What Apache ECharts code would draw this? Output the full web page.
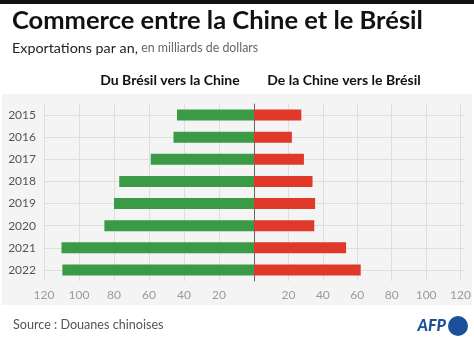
<!DOCTYPE html>
<html><head><meta charset="utf-8">
<script src="https://cdn.jsdelivr.net/npm/echarts@6/dist/echarts.min.js"></script>
<style>html,body{margin:0;padding:0;background:#fff}#c{width:474px;height:338px}</style>
</head><body><div id="c"></div>
<script>
const years = ['2015','2016','2017','2018','2019','2020','2021','2022'];
const bresilVersChine = [44, 46, 59, 77, 80, 85.5, 110, 109.5];
const chineVersBresil = [27.5, 22, 29, 34, 35.5, 35, 53.5, 62];
const xTicks = [0, 20, 40, 60, 80, 100, 120];

const FONT = 'Lato';
const chart = echarts.init(document.getElementById('c'), null, {renderer: 'canvas'});

function xAxisCfg(grid, inverse) {
  return {
    type: 'value', gridIndex: grid, min: xTicks[0], max: xTicks[xTicks.length - 1], interval: 20, inverse: inverse,
    axisLine: {show: false}, axisTick: {show: false},
    splitLine: {show: true, lineStyle: {color: '#dedede', width: 1}},
    axisLabel: {color: '#9a9a9a', fontSize: 12, fontFamily: FONT, margin: 8,
      formatter: v => v === 0 ? '' : String(v), showMinLabel: true, showMaxLabel: true}
  };
}
function yAxisCfg(grid, showLabels, showLine) {
  return {
    type: 'category', gridIndex: grid, data: years, inverse: true,
    axisTick: {show: false},
    axisLine: {show: showLine, lineStyle: {color: '#666', width: 1}},
    axisLabel: {show: showLabels, color: '#555', fontSize: 12, fontFamily: FONT, margin: 8},
    splitLine: {show: false}
  };
}

chart.setOption({
  animation: false,
  backgroundColor: '#ffffff',
  graphic: [
    {type: 'rect', shape: {x: 0, y: 0, width: 474, height: 4}, style: {fill: '#111'}, z: -10},
    {type: 'rect', shape: {x: 2, y: 94, width: 470, height: 211}, style: {fill: '#f4f4f4'}, z: -10},
    {type: 'text', left: 12, top: 8, style: {text: 'Commerce entre la Chine et le Brésil', font: 'bold 25.5px ' + FONT, fill: '#111'}},
    {type: 'text', left: 12, top: 41, style: {
      text: '{a|Exportations par an,} {b|en milliards de dollars}',
      rich: {
        a: {fontFamily: FONT, fontSize: 14.3, fill: '#222', color: '#222'},
        b: {fontFamily: FONT, fontSize: 12.4, fill: '#666', color: '#666'}
      }}},
    {type: 'text', x: 170, y: 80, style: {text: 'Du Brésil vers la Chine', font: 'bold 14px ' + FONT, fill: '#111', textAlign: 'center', textVerticalAlign: 'middle'}},
    {type: 'text', x: 344, y: 80, style: {text: 'De la Chine vers le Brésil', font: 'bold 14px ' + FONT, fill: '#111', textAlign: 'center', textVerticalAlign: 'middle'}},
    {type: 'text', left: 13, top: 318, style: {text: 'Source : Douanes chinoises', font: '12.6px ' + FONT, fill: '#555'}},
    {type: 'text', x: 446, y: 326, style: {text: 'AFP', font: 'italic 900 16px ' + FONT, fill: '#1c4f9c', textAlign: 'right', textVerticalAlign: 'middle'}},
    {type: 'circle', shape: {cx: 458, cy: 326, r: 10}, style: {fill: '#1c4f9c'}}
  ],
  grid: [
    {left: 44, width: 210, top: 104, bottom: 57},
    {left: 254, width: 210, top: 104, bottom: 57},
    {left: 44, width: 420, top: 115, bottom: 68}
  ],
  xAxis: [xAxisCfg(0, true), xAxisCfg(1, false),
    {type: 'value', gridIndex: 2, min: 0, max: 1, show: false}],
  yAxis: [yAxisCfg(0, true, false), yAxisCfg(1, false, true),
    {type: 'category', gridIndex: 2, data: years, inverse: true, boundaryGap: false,
      axisLine: {show: false}, axisTick: {show: false}, axisLabel: {show: false},
      splitLine: {show: true, lineStyle: {color: '#dedede', width: 1}}}],
  series: [
    {type: 'scatter', xAxisIndex: 2, yAxisIndex: 2, data: [], silent: true},
    {name: 'Du Brésil vers la Chine', type: 'bar', xAxisIndex: 0, yAxisIndex: 0, data: bresilVersChine,
      barWidth: 11, itemStyle: {color: '#3a9a45'}, z: 3},
    {name: 'De la Chine vers le Brésil', type: 'bar', xAxisIndex: 1, yAxisIndex: 1, data: chineVersBresil,
      barWidth: 11, itemStyle: {color: '#e0392a'}, z: 3}
  ]
});
</script></body></html>
